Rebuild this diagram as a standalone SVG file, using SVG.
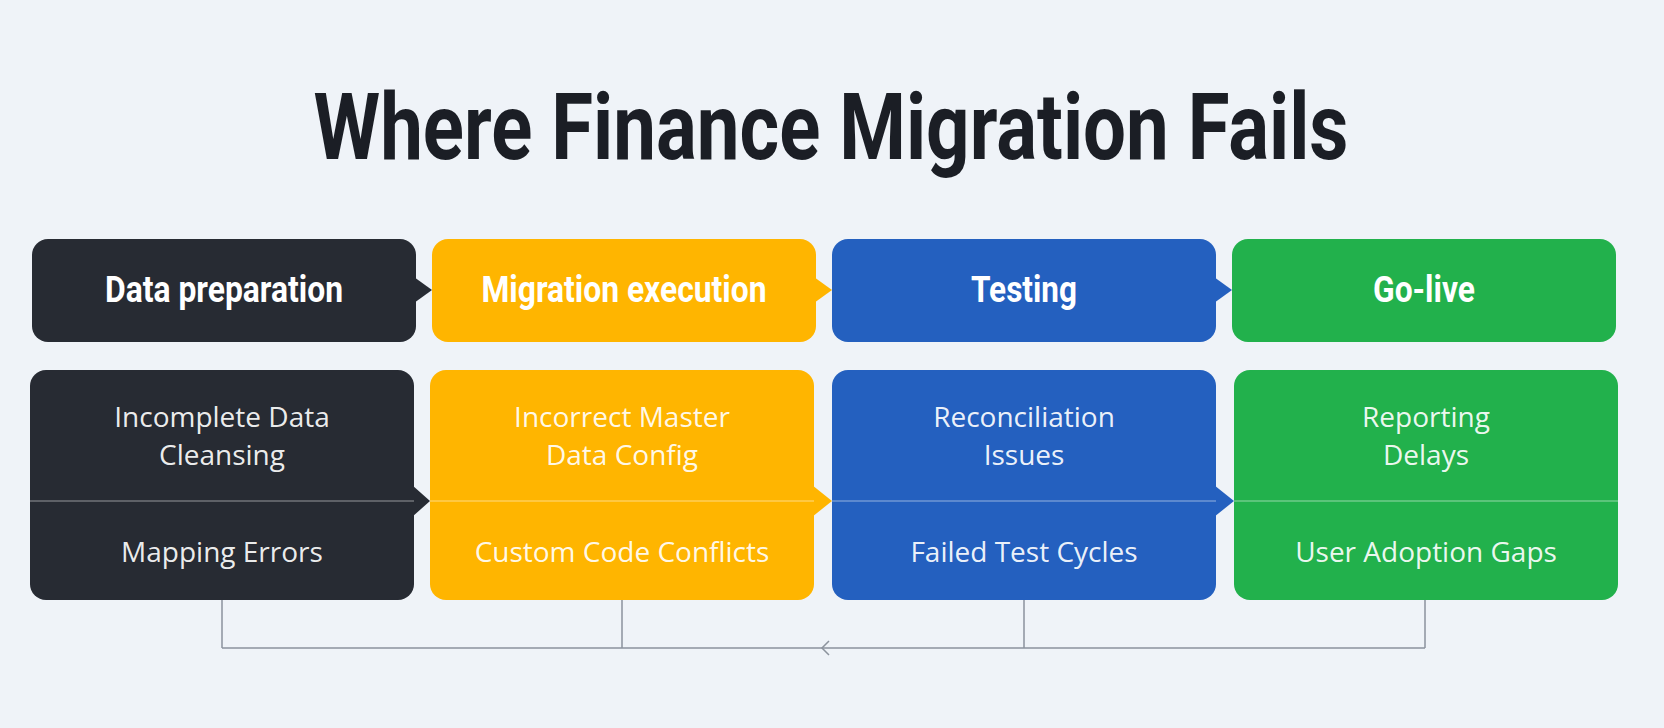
<svg xmlns="http://www.w3.org/2000/svg" width="1664" height="728" viewBox="0 0 1664 728">
<style>
.title{font-family:Roboto,"Liberation Sans",sans-serif;font-weight:700;font-size:92px;fill:#1b1e25}
.head{font-family:Roboto,"Liberation Sans",sans-serif;font-weight:700;font-size:36px;fill:#ffffff}
.body{font-family:"Open Sans","Liberation Sans",sans-serif;font-size:28px;fill:#ffffff;fill-opacity:0.93}
.div{stroke:#ffffff;stroke-opacity:0.35;stroke-width:1.5}
.conn{stroke:#8c939d;stroke-width:1.5;fill:none}
.dark{fill:#272b33}.yellow{fill:#ffb500}.blue{fill:#2460bf}.green{fill:#22b14c}
</style>
<rect width="1664" height="728" fill="#eff3f8"/>
<text class="title" x="831" y="159" text-anchor="middle" textLength="1035" lengthAdjust="spacingAndGlyphs">Where Finance Migration Fails</text>

<g id="connectors">
<path class="conn" d="M222 600V648M622 600V648M1024 600V648M1425 600V648M222 648H1425"/>
<polyline class="conn" points="829,641 822,648 829,655"/>
</g>

<g id="stage-data-preparation">
<rect class="dark" x="32" y="239" width="384" height="103" rx="16"/>
<polygon class="dark" points="414,277 432,290 414,303"/>
<text class="head" x="224" y="302" text-anchor="middle" textLength="238" lengthAdjust="spacingAndGlyphs">Data preparation</text>
<rect class="dark" x="30" y="370" width="384" height="230" rx="16"/>
<polygon class="dark" points="412,485 430,501 412,517"/>
<line class="div" x1="30" y1="501" x2="414" y2="501"/>
<text class="body" x="222" y="427" text-anchor="middle">Incomplete Data</text>
<text class="body" x="222" y="465" text-anchor="middle">Cleansing</text>
<text class="body" x="222" y="562" text-anchor="middle">Mapping Errors</text>
</g>

<g id="stage-migration-execution">
<rect class="yellow" x="432" y="239" width="384" height="103" rx="16"/>
<polygon class="yellow" points="814,277 832,290 814,303"/>
<text class="head" x="624" y="302" text-anchor="middle" textLength="285" lengthAdjust="spacingAndGlyphs">Migration execution</text>
<rect class="yellow" x="430" y="370" width="384" height="230" rx="16"/>
<polygon class="yellow" points="812,485 832,501 812,517"/>
<line class="div" x1="430" y1="501" x2="814" y2="501"/>
<text class="body" x="622" y="427" text-anchor="middle">Incorrect Master</text>
<text class="body" x="622" y="465" text-anchor="middle">Data Config</text>
<text class="body" x="622" y="562" text-anchor="middle">Custom Code Conflicts</text>
</g>

<g id="stage-testing">
<rect class="blue" x="832" y="239" width="384" height="103" rx="16"/>
<polygon class="blue" points="1214,277 1232,290 1214,303"/>
<text class="head" x="1024" y="302" text-anchor="middle" textLength="106" lengthAdjust="spacingAndGlyphs">Testing</text>
<rect class="blue" x="832" y="370" width="384" height="230" rx="16"/>
<polygon class="blue" points="1214,485 1234,501 1214,517"/>
<line class="div" x1="832" y1="501" x2="1216" y2="501"/>
<text class="body" x="1024" y="427" text-anchor="middle">Reconciliation</text>
<text class="body" x="1024" y="465" text-anchor="middle">Issues</text>
<text class="body" x="1024" y="562" text-anchor="middle">Failed Test Cycles</text>
</g>

<g id="stage-go-live">
<rect class="green" x="1232" y="239" width="384" height="103" rx="16"/>
<text class="head" x="1424" y="302" text-anchor="middle" textLength="102" lengthAdjust="spacingAndGlyphs">Go-live</text>
<rect class="green" x="1234" y="370" width="384" height="230" rx="16"/>
<line class="div" x1="1234" y1="501" x2="1618" y2="501"/>
<text class="body" x="1426" y="427" text-anchor="middle">Reporting</text>
<text class="body" x="1426" y="465" text-anchor="middle">Delays</text>
<text class="body" x="1426" y="562" text-anchor="middle">User Adoption Gaps</text>
</g>
</svg>
